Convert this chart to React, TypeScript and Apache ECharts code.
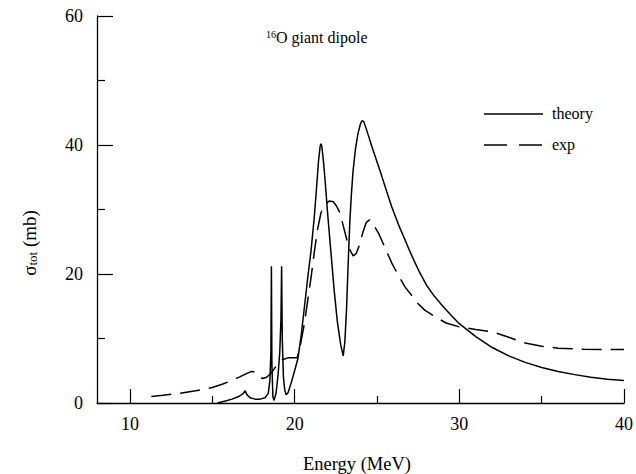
import React, { useEffect, useRef } from "react";
import * as echarts from "echarts";

// Energy grid (MeV) and total cross-section (mb) for the theory curve
const theoryE = [
  15.3, 15.8, 16.2, 16.6, 16.85, 17.0, 17.1, 17.3, 17.6, 17.9, 18.2, 18.4, 18.5, 18.56, 18.59, 18.62,
  18.68, 18.75, 18.87, 19.0, 19.1, 19.17, 19.21, 19.25, 19.32, 19.4, 19.48, 19.6, 19.8, 20.0, 20.2,
  20.4, 20.6, 20.8, 21.0, 21.2, 21.35, 21.45, 21.55, 21.6, 21.65, 21.75, 21.85, 22.0, 22.2, 22.4,
  22.6, 22.8, 22.95, 23.05, 23.15, 23.25, 23.35, 23.45, 23.55, 23.7, 23.85, 24.0, 24.1, 24.2, 24.35,
  24.5, 24.7, 25.0, 25.3, 25.6, 25.9, 26.3, 26.7, 27.0, 27.3, 27.6, 28.0, 28.5, 29.0, 29.5, 30.0,
  31.0, 32.0, 33.0, 34.0, 35.0, 36.0, 37.0, 38.0, 39.0, 40.0,
];
const theorySigma = [
  0.0, 0.3, 0.6, 1.0, 1.4, 1.9, 1.3, 0.8, 0.6, 0.6, 0.8, 1.5, 3.5, 8, 21.2, 6,
  1.0, 0.4, 1.5, 4.5, 8, 13, 21.2, 10, 4, 2, 1.3, 1.6, 3.2, 5.0, 6.9,
  10.5, 15, 19.5, 23.7, 29, 34, 37.5, 39.8, 40.2, 39.8, 37.5, 34.5, 29.5, 23.5, 17.5,
  12.5, 9, 7.3, 9.5, 14.4, 21.5, 28, 32.5, 36, 39.5, 41.8, 43.3, 43.8, 43.6, 42.5,
  41.3, 39.7, 37.4, 35.1, 32.7, 30.4, 27.7, 25.3, 23.5, 21.8, 20.2, 18.3, 16.5, 15.0, 13.6, 12.3,
  10.3, 8.6, 7.3, 6.3, 5.5, 4.9, 4.4, 4.0, 3.7, 3.5,
];

// Experimental curve
const expE = [
  11.3, 12.0, 13.0, 14.0, 15.0, 15.6, 16.2, 16.7, 17.1, 17.4, 17.6, 17.85, 18.05, 18.3, 18.6, 18.9,
  19.25, 19.6, 19.9, 20.15, 20.35, 20.6, 20.8, 21.0, 21.2, 21.4, 21.6, 21.85, 22.1, 22.35, 22.55,
  22.75, 22.95, 23.15, 23.35, 23.55, 23.75, 23.95, 24.15, 24.35, 24.55, 24.75, 25.1, 25.5, 25.9,
  26.3, 26.7, 27.1, 27.5, 27.9, 28.5, 29.2, 30.0, 31.0, 32.0, 33.0, 34.0, 35.0, 36.0, 37.5, 39.0, 40.0,
];
const expSigma = [
  1.0, 1.2, 1.5, 1.9, 2.4, 2.9, 3.5, 4.1, 4.6, 4.9, 4.8, 4.1, 3.8, 4.0, 4.7, 5.8,
  6.7, 7.0, 7.0, 7.0, 9.0, 12.4, 16, 19.5, 23.5, 27, 29.5, 30.8, 31.3, 31.2, 30.5,
  29.5, 27.5, 25.5, 23.8, 22.8, 23.2, 24.6, 26.5, 28.0, 28.4, 27.8, 26.3, 24.0, 21.7,
  19.8, 18.0, 16.7, 15.4, 14.4, 13.4, 12.4, 11.8, 11.4, 11.05, 10.2, 9.3, 8.8, 8.5, 8.35, 8.3, 8.3,
];

const xMajorTicks = [10, 20, 30, 40];
const xAxisRange = { min: 8, max: 40, step: 10 };
const yTicks = { min: 0, max: 60, interval: 20 };

const seriesNames = ["theory", "exp"];
const titleSup = "16";
const titleText = "O giant dipole";
const xName = "Energy (MeV)";

const SERIF = "Liberation Serif, Times New Roman, serif";

export default function App() {
  const ref = useRef<HTMLDivElement>(null);

  useEffect(() => {
    if (!ref.current) return;
    const chart = echarts.init(ref.current, undefined, { renderer: "svg" });
    const axisColor = "#000";

    chart.setOption({
      animation: false,
      backgroundColor: "#fff",
      textStyle: { fontFamily: SERIF },
      grid: { left: 97, right: 9, top: 16, bottom: 71 },
      xAxis: {
        type: "value",
        min: xAxisRange.min,
        max: xAxisRange.max,
        splitNumber: 3,
        minInterval: xAxisRange.step,
        maxInterval: xAxisRange.step,
        axisLine: { show: true, onZero: false, lineStyle: { color: axisColor, width: 1.3 } },
        axisTick: {
          show: true,
          inside: true,
          length: 14,
          customValues: xMajorTicks,
          lineStyle: { color: axisColor, width: 1.2 },
        },
        minorTick: { show: true, splitNumber: 2, length: 7, lineStyle: { color: axisColor, width: 1.2 } },
        axisLabel: {
          customValues: xMajorTicks,
          color: "#000",
          fontFamily: SERIF,
          fontSize: 18,
          margin: 12,
        },
        splitLine: { show: false },
        minorSplitLine: { show: false },
      },
      yAxis: {
        type: "value",
        min: yTicks.min,
        max: yTicks.max,
        interval: yTicks.interval,
        axisLine: { show: true, onZero: false, lineStyle: { color: axisColor, width: 1.3 } },
        axisTick: { show: true, inside: true, length: 16, lineStyle: { color: axisColor, width: 1.2 } },
        minorTick: { show: true, splitNumber: 2, length: 8, lineStyle: { color: axisColor, width: 1.2 } },
        axisLabel: { color: "#000", fontFamily: SERIF, fontSize: 18, margin: 14 },
        splitLine: { show: false },
        minorSplitLine: { show: false },
      },
      series: [
        {
          name: seriesNames[0],
          type: "line",
          data: theoryE.map((e, i) => [e, theorySigma[i]]),
          showSymbol: false,
          symbol: "none",
          lineStyle: { color: "#000", width: 1.5 },
        },
        {
          name: seriesNames[1],
          type: "line",
          data: expE.map((e, i) => [e, expSigma[i]]),
          showSymbol: false,
          symbol: "none",
          lineStyle: { color: "#000", width: 1.5, type: [20, 9] },
        },
      ],
      graphic: [
        {
          type: "text",
          left: 266,
          top: 29,
          style: {
            text: `{sup|${titleSup}}{n|${titleText}}`,
            fill: "#000",
            fontFamily: SERIF,
            rich: {
              sup: { fontFamily: SERIF, fontSize: 10, lineHeight: 10, verticalAlign: "top", fill: "#000" },
              n: { fontFamily: SERIF, fontSize: 16, lineHeight: 17, fill: "#000" },
            },
          },
        },
        {
          type: "text",
          x: 29,
          y: 243,
          rotation: Math.PI / 2,
          style: {
            text: "{s|σ}{sub|tot}{s| (mb)}",
            align: "center",
            verticalAlign: "middle",
            fill: "#000",
            fontFamily: SERIF,
            rich: {
              s: { fontFamily: SERIF, fontSize: 19, lineHeight: 19, fill: "#000" },
              sub: { fontFamily: SERIF, fontSize: 13, lineHeight: 13, verticalAlign: "bottom", fill: "#000" },
            },
          },
        },
        {
          type: "text",
          x: 357,
          y: 464,
          style: {
            text: xName,
            align: "center",
            verticalAlign: "middle",
            fontFamily: SERIF,
            fontSize: 18.5,
            fill: "#000",
          },
        },
        {
          type: "line",
          shape: { x1: 484, y1: 114, x2: 543, y2: 114 },
          style: { stroke: "#000", lineWidth: 1.5 },
        },
        {
          type: "text",
          x: 552,
          y: 113,
          style: {
            text: seriesNames[0],
            verticalAlign: "middle",
            fontFamily: SERIF,
            fontSize: 16,
            fill: "#000",
          },
        },
        {
          type: "line",
          shape: { x1: 484, y1: 145, x2: 543, y2: 145 },
          style: { stroke: "#000", lineWidth: 1.5, lineDash: [23, 12] },
        },
        {
          type: "text",
          x: 552,
          y: 144,
          style: {
            text: seriesNames[1],
            verticalAlign: "middle",
            fontFamily: SERIF,
            fontSize: 16,
            fill: "#000",
          },
        },
      ],
    });

    return () => chart.dispose();
  }, []);

  return (
    <div
      ref={ref}
      style={{ position: "fixed", left: 0, top: 0, width: 636, height: 474, background: "#fff" }}
    />
  );
}
